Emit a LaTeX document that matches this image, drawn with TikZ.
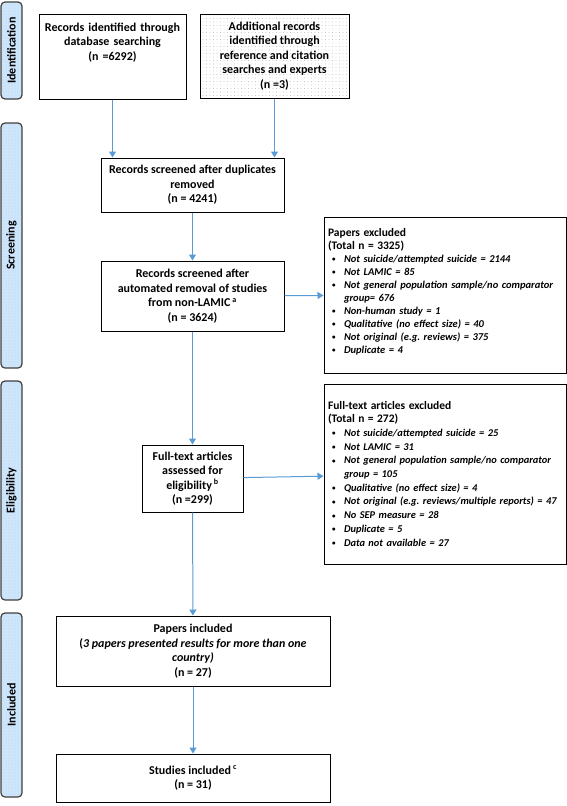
\documentclass[tikz,border=0pt]{standalone}
\usepackage{fontspec}
\setmainfont{Carlito}
\usepackage{xcolor}
\definecolor{flowblue}{RGB}{91,155,213}
\definecolor{stagefill}{RGB}{207,230,250}
\usepackage{tikz}
\usetikzlibrary{arrows.meta,patterns.meta}
\newcommand{\drw}[2]{\draw[flow] (#1) -- (#2)}
\newcommand{\exitem}[1]{\par\hyphenpenalty=10000\relax\hangindent=16pt\hangafter=1\noindent\hspace*{4pt}\makebox[12pt][l]{\raisebox{.6pt}{\fontsize{7}{7}\selectfont\textbullet}}\textit{#1}}
\newcommand{\exhead}[1]{{\fontsize{11.5}{13}\selectfont #1}}

\begin{document}
\begin{tikzpicture}[
      x=1pt,y=-1pt,
      flow/.style={draw=flowblue,line width=1pt,-{Triangle[width=7pt,length=6pt]}},
      stage/.style={rectangle,rounded corners=4pt,draw=black!75,line width=1.2pt,rotate=90,
        preaction={fill=stagefill},pattern={Dots[distance=3pt,radius=.4pt]},pattern color=blue!25!stagefill,
        minimum height=21pt,inner sep=0pt,font=\fontsize{12}{13}\selectfont\bfseries},
      box/.style={rectangle,draw,line width=1pt,align=center,inner sep=3pt,
        font=\fontsize{12}{14.5}\selectfont\bfseries},
      exbox/.style={rectangle,draw,line width=1pt,align=left,text width=234pt,inner xsep=4pt,inner ysep=4pt,
        font=\fontsize{10.5}{13}\selectfont\bfseries}]
      \useasboundingbox (0,0) rectangle (567,806);

      % Define nodes
      \node[stage,minimum width=97pt] (idlab) at (11.5,50.5) {Identification};
      \node[stage,minimum width=245pt] (scrlab) at (11.5,245.5) {Screening};
      \node[stage,minimum width=219pt] (elilab) at (11.5,490.5) {Eligibility};
      \node[stage,minimum width=184pt] (inclab) at (11.5,705) {Included};

      \node[box,text width=141pt,minimum height=85pt,text height=14pt,text depth=65pt] (dbrec) at (112.5,56.5)
        {Records identified through\\ database searching\\ (n =6292)};
      \node[box,minimum width=149pt,minimum height=84pt,pattern={Dots[distance=3.5pt,radius=.4pt]},pattern color=black!35] (addrec) at (274.5,56)
        {Additional records\\ identified through\\ reference and citation\\ searches and experts\\ (n =3)};
      \node[box,minimum width=183pt,minimum height=54pt] (dedup) at (192.5,185)
        {Records screened after duplicates\\ removed\\ (n = 4241)};
      \node[box,minimum width=183pt,minimum height=70pt] (autorm) at (192.5,296)
        {Records screened after\\ automated removal of studies\\ from non-LAMIC\,\textsuperscript{a}\\ (n = 3624)};
      \node[exbox,minimum height=156pt,text height=15pt,text depth=133pt] (papex) at (445,295)
        {\exhead{Papers excluded}\par\noindent\exhead{(Total n = 3325)}
         \exitem{Not suicide/attempted suicide = 2144}
         \exitem{Not LAMIC = 85}
         \exitem{Not general population sample/no comparator group= 676}
         \exitem{Non-human study = 1}
         \exitem{Qualitative (no effect size) = 40}
         \exitem{Not original (e.g.\ reviews) = 375}
         \exitem{Duplicate = 4}};
      \node[box,minimum width=101pt,minimum height=67pt] (fulltxt) at (192.5,478.5)
        {Full-text articles\\ assessed for\\ eligibility\,\textsuperscript{b}\\ (n =299)};
      \node[exbox,minimum height=180pt,text height=21pt,text depth=151pt,font=\fontsize{10.4}{13.7}\selectfont\bfseries] (ftex) at (445,474)
        {\exhead{Full-text articles excluded}\par\noindent\exhead{(Total n = 272)}
         \exitem{Not suicide/attempted suicide = 25}
         \exitem{Not LAMIC = 31}
         \exitem{Not general population sample/no comparator group = 105}
         \exitem{Qualitative (no effect size) = 4}
         \exitem{Not original (e.g.\ reviews/multiple reports) = 47}
         \exitem{No SEP measure = 28}
         \exitem{Duplicate = 5}
         \exitem{Data not available = 27}};
      \node[box,minimum width=274pt,minimum height=70pt] (papinc) at (193,651)
        {Papers included\\ (\textit{3 papers presented results for more than one}\\ \textit{country)}\\ (n = 27)};
      \node[box,minimum width=274pt,minimum height=48pt] (studinc) at (193,778)
        {Studies included\,\textsuperscript{c}\\ (n = 31)};

      % Draw paths
      \drw{dbrec.south}{dbrec.south |- dedup.north};
      \drw{addrec.south}{addrec.south |- dedup.north};
      \drw{dedup}{autorm};
      \drw{autorm}{papex};
      \drw{autorm}{fulltxt};
      \drw{fulltxt}{ftex};
      \drw{fulltxt}{papinc};
      \drw{papinc}{studinc};

  \end{tikzpicture}
\end{document}
